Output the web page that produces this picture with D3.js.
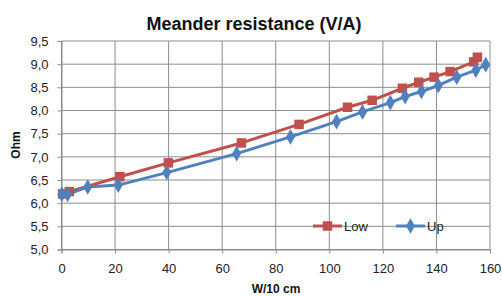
<!DOCTYPE html>
<html>
<head>
<meta charset="utf-8">
<script src="https://cdn.jsdelivr.net/npm/d3@7"></script>
<style>
  body { margin: 0; background: #fff; }
  svg { display: block; font-family: "Liberation Sans", Arial, sans-serif; }
</style>
</head>
<body>
<div id="chart"></div>
<script>
const lowX = [0.4, 2.9, 21.8, 39.9, 67.2, 88.7, 106.8, 116, 127.3, 133.4, 139.1, 145.1, 153.9, 155.3];
const lowY = [6.20, 6.25, 6.57, 6.87, 7.30, 7.70, 8.07, 8.22, 8.48, 8.61, 8.72, 8.84, 9.05, 9.15];
const upX = [0.1, 2.3, 9.8, 21.2, 39.3, 65.4, 85.5, 102.7, 112.4, 122.8, 128.3, 134.4, 140.7, 147.6, 154.7, 158.4];
const upY = [6.19, 6.19, 6.35, 6.39, 6.66, 7.07, 7.43, 7.76, 7.97, 8.17, 8.30, 8.41, 8.54, 8.72, 8.87, 8.99];
const xTicks = [0, 20, 40, 60, 80, 100, 120, 140, 160];
const yTicks = [5.0, 5.5, 6.0, 6.5, 7.0, 7.5, 8.0, 8.5, 9.0, 9.5];

const width = 502, height = 296;
const plotL = 61.5, plotR = 490, plotT = 41, plotB = 249.5;
const RED = "#C0504D", BLUE = "#4F81BD", GRID = "#8c8c8c";

const svg = d3.select("#chart").append("svg")
  .attr("width", width)
  .attr("height", height);

const x = d3.scaleLinear().domain([0, 160]).range([plotL, plotR]);
const y = d3.scaleLinear().domain([5, 9.5]).range([plotB, plotT]);

// grid
svg.append("g").selectAll("line")
  .data(xTicks)
  .enter().append("line")
  .attr("x1", d => x(d)).attr("x2", d => x(d))
  .attr("y1", plotT).attr("y2", plotB)
  .attr("stroke", GRID).attr("stroke-width", 1);

svg.append("g").selectAll("line")
  .data(yTicks)
  .enter().append("line")
  .attr("x1", plotL).attr("x2", plotR)
  .attr("y1", d => y(d)).attr("y2", d => y(d))
  .attr("stroke", GRID).attr("stroke-width", 1);

const fmt = d => d3.format(".1f")(d).replace(".", ",");

const yAxis = svg.append("g")
  .attr("transform", `translate(${plotL},0)`)
  .call(d3.axisLeft(y).tickValues(yTicks).tickFormat(fmt).tickSize(4).tickPadding(9));
const xAxis = svg.append("g")
  .attr("transform", `translate(0,${plotB})`)
  .call(d3.axisBottom(x).tickValues(xTicks).tickFormat(d3.format("d")).tickSize(4).tickPadding(10));

[xAxis, yAxis].forEach(a => {
  a.select(".domain").attr("stroke", GRID);
  a.selectAll(".tick line").attr("stroke", GRID);
  a.selectAll("text").attr("fill", "#222").style("font-size", "13px")
    .style("font-family", "'Liberation Sans', sans-serif");
});

// series
const lowData = lowX.map((d, i) => [d, lowY[i]]);
const upData = upX.map((d, i) => [d, upY[i]]);
const line = d3.line().x(d => x(d[0])).y(d => y(d[1]));

svg.append("path").datum(lowData)
  .attr("d", line).attr("fill", "none")
  .attr("stroke", RED).attr("stroke-width", 3).attr("stroke-linejoin", "round");
svg.append("path").datum(upData)
  .attr("d", line).attr("fill", "none")
  .attr("stroke", BLUE).attr("stroke-width", 3).attr("stroke-linejoin", "round");

const square = d3.symbol().type(d3.symbolSquare).size(90);
const diamond = d3.symbol().type(d3.symbolDiamond).size(70);

svg.append("g").selectAll("path")
  .data(lowData)
  .enter().append("path")
  .attr("d", square)
  .attr("transform", d => `translate(${x(d[0])},${y(d[1])})`)
  .attr("fill", RED);

svg.append("g").selectAll("path")
  .data(upData)
  .enter().append("path")
  .attr("d", diamond)
  .attr("transform", d => `translate(${x(d[0])},${y(d[1])})`)
  .attr("fill", BLUE);

// legend
const legend = [["Low", RED, square, 313], ["Up", BLUE, diamond, 396]];
legend.forEach(([name, color, sym, lx]) => {
  const g = svg.append("g").attr("transform", `translate(${lx},226)`);
  g.append("line").attr("x1", 0).attr("x2", 29).attr("stroke", color).attr("stroke-width", 3);
  g.append("path").attr("d", sym).attr("transform", "translate(14.5,0)").attr("fill", color);
  g.append("text").attr("x", 31).attr("y", 5).text(name)
    .style("font-size", "13px").attr("fill", "#222");
});

// title and axis labels
svg.append("text")
  .attr("x", 254).attr("y", 30)
  .attr("text-anchor", "middle")
  .style("font-size", "18px").style("font-weight", "bold")
  .attr("fill", "#111")
  .text("Meander resistance (V/A)");

svg.append("text")
  .attr("x", 276).attr("y", 293)
  .attr("text-anchor", "middle")
  .style("font-size", "12px").style("font-weight", "bold")
  .attr("fill", "#111")
  .text("W/10 cm");

svg.append("text")
  .attr("transform", "translate(20,145) rotate(-90)")
  .attr("text-anchor", "middle")
  .style("font-size", "12px").style("font-weight", "bold")
  .attr("fill", "#111")
  .text("Ohm");
</script>
</body>
</html>
